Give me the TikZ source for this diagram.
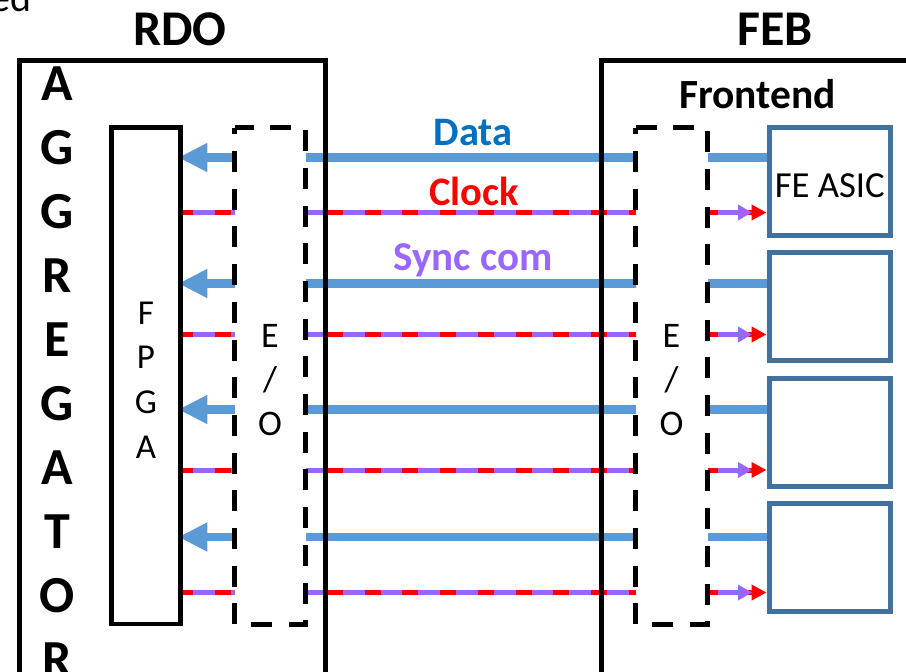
\documentclass[tikz,border=0pt]{standalone}
\usepackage{fontspec}
\setmainfont{Carlito}
\usetikzlibrary{arrows.meta}
\definecolor{linkblue}{HTML}{5B9BD5}
\definecolor{datatext}{HTML}{0070C0}
\definecolor{syncviolet}{HTML}{9966FF}
\definecolor{asicedge}{HTML}{41719C}
\definecolor{clockred}{HTML}{FF0000}
\newcommand{\fsz}[1]{\fontsize{#1}{#1}\selectfont}

\begin{document}
\begin{tikzpicture}[x=1pt,y=-1pt,
  frame/.style={draw=black, line width=4.5pt, inner sep=0pt, outer sep=0pt},
  asicbox/.style={draw=asicedge, line width=5pt, inner sep=0pt, outer sep=0pt,
    minimum width=121.5pt, minimum height=108pt, anchor=north west},
  eobox/.style={inner sep=0pt, outer sep=0pt, minimum width=71pt,
    minimum height=497pt, anchor=north west},
  eoedge/.style={draw=black, line width=4.5pt, dash pattern=on 21pt off 16.7pt, dash phase=14.2pt},
  datalink/.style={draw=linkblue, line width=8.5pt},
  datain/.style={datalink, -{Triangle[length=29pt,width=27pt]}, shorten >=-2.25pt},
  syncline/.style={draw=syncviolet, line width=5pt},
  clockdash/.style={draw=clockred, line width=5pt, dash pattern=on 16pt off 21.7pt},
  title/.style={font=\fsz{50}\bfseries, anchor=base},
  tag/.style={font=\fsz{40.5}\bfseries, anchor=base},
  vletter/.style={font=\fsz{52}\bfseries, anchor=base},
  fletter/.style={font=\fsz{35}, anchor=base},
  eoletter/.style={font=\fsz{36}, anchor=base}]

\useasboundingbox (0,0) rectangle (906,672);
\clip (0,0) rectangle (906,672);

% outer boards and inner blocks (geometry only, drawn later)
\node[frame, draw=none, minimum width=306pt, minimum height=700pt, anchor=north west] (rdo) at (19.5,60.5) {};
\node[frame, draw=none, minimum width=69pt, minimum height=496.5pt, anchor=north west] (fpga) at (111.5,127.5) {};
\node[eobox] (eoL) at (234.5,127.5) {};
\node[eobox, minimum width=72pt] (eoR) at (635.5,127.5) {};
\node[frame, draw=none, minimum width=400pt, minimum height=700pt, anchor=north west] (feb) at (601.5,60.5) {};
\foreach \i/\t in {1/127.5, 2/252.8, 3/378.2, 4/503.5}
  \node[asicbox, draw=none] (asic\i) at (769,\t) {};

% link rows: data and clock/sync heights
\foreach \i/\dy/\cy in {1/157.5/212.5, 2/283.5/334.5, 3/409.5/470, 4/537/592.5} {
  \coordinate (d\i) at (0,\dy);
  \coordinate (c\i) at (0,\cy);
}

\foreach \i in {1,2,3,4} {
  % data: ASIC -> E/O -> fibre -> E/O -> FPGA
  \draw[datalink] (asic\i.west |- d\i) -- (eoR.east |- d\i);
  \draw[datalink] (eoR.west |- d\i) -- (eoL.east |- d\i);
  \draw[datain] (eoL.west |- d\i) -- (fpga.east |- d\i);
  % clock + sync: FPGA -> E/O
  \draw[syncline] (fpga.east |- c\i) -- (eoL.west |- c\i);
  \draw[clockdash, dash phase=3.5pt] (fpga.east |- c\i) -- (eoL.west |- c\i);
  % fibre
  \draw[syncline] (eoL.east |- c\i) -- (eoR.west |- c\i);
  \draw[clockdash, dash phase=16.2pt] (eoL.east |- c\i) -- (eoR.west |- c\i);
  % E/O -> ASIC, two arrow heads
  \draw[draw=clockred, line width=5pt, -{Triangle[length=15pt,width=15pt]}, shorten >=2.5pt]
    (eoR.east |- c\i) -- (asic\i.west |- c\i);
  \draw[syncline, -{Triangle[length=14pt,width=15pt]}, shorten <=10.5pt, shorten >=17pt]
    (eoR.east |- c\i) -- (asic\i.west |- c\i);
}

% boxes on top of the links
\draw[line width=4.5pt] (rdo.north west) rectangle (rdo.south east);
\draw[line width=4.5pt] (fpga.north west) rectangle (fpga.south east);
\draw[line width=4.5pt] (feb.north west) rectangle (feb.south east);
\foreach \i in {1,2,3,4}
  \draw[draw=asicedge, line width=5pt] (asic\i.north west) rectangle (asic\i.south east);
\draw[eoedge] (eoL.north west) -- (eoL.south west) -- (eoL.south east) -- (eoL.north east) -- cycle;
\draw[eoedge] (eoR.north west) -- (eoR.south west) -- (eoR.south east) -- (eoR.north east) -- cycle;

% texts
\node[font=\fsz{40}, anchor=base east] (edtail) at (35,11) {ed};
\node[title] (rdotitle) at (180,45) {RDO};
\node[title] (febtitle) at (775,45) {FEB};
\node[tag, font=\fsz{41.5}\bfseries] (frontend) at (757.5,108) {Frontend};
\node[tag, text=datatext] (datalbl) at (473,145) {Data};
\node[tag, text=clockred] (clocklbl) at (474,205) {Clock};
\node[tag, text=syncviolet, font=\fsz{41}\bfseries] (synclbl) at (473,270) {Sync com};
\node[font=\fsz{36.7}, anchor=base] (asiclbl) at (829.75,197) {FE ASIC};

\foreach \ch [count=\k from 0] in {A,G,G,R,E,G,A,T,O,R}
  \node[vletter] (agg\k) at (57.5,100+64*\k) {\ch};
\foreach \ch/\y [count=\k from 0] in {F/324,P/368,G/413,A/458}
  \node[fletter] (fp\k) at (146,\y) {\ch};

\node[eoletter] (eoLe) at (270,347) {E};
\node[eoletter] (eoLs) at (270,391) {/};
\node[eoletter] (eoLo) at (270,435) {O};
\node[eoletter] (eoRe) at (671.5,347) {E};
\node[eoletter] (eoRs) at (671.5,391) {/};
\node[eoletter] (eoRo) at (671.5,435) {O};
\end{tikzpicture}
\end{document}
